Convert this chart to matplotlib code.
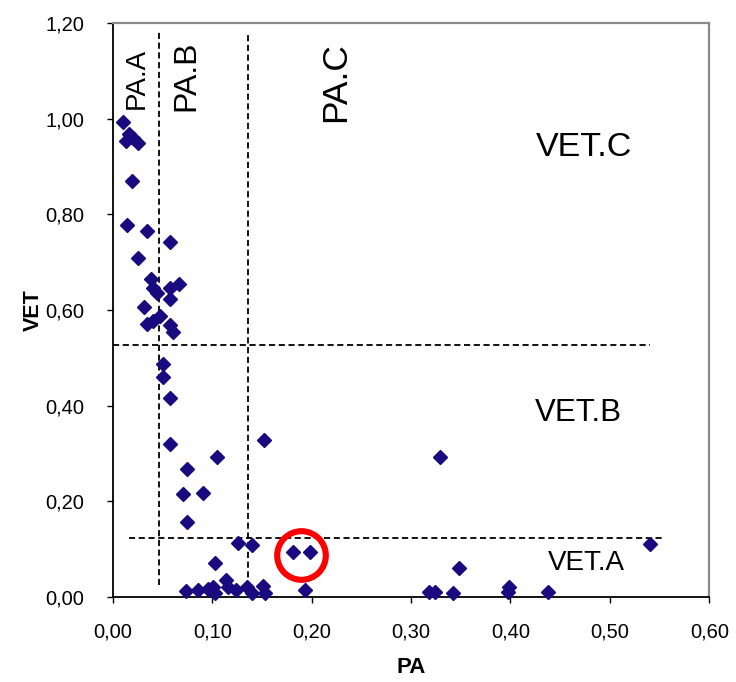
import matplotlib
matplotlib.use("Agg")
import matplotlib.pyplot as plt
from matplotlib.ticker import FuncFormatter

plt.rcParams['font.family'] = ['Liberation Sans', 'DejaVu Sans']

# ---- data ----
pa = [0.010, 0.0165, 0.013, 0.0205, 0.0256, 0.019, 0.0145, 0.034, 0.0574, 0.0256,
      0.038, 0.0407, 0.0447, 0.0574, 0.0668, 0.0574, 0.0313, 0.0474, 0.0407, 0.034,
      0.0574, 0.0601,
      0.0507, 0.0507, 0.0574, 0.0574, 0.152, 0.1044, 0.0742, 0.0708, 0.0903, 0.0748, 0.329,
      0.126, 0.1396, 0.1027, 0.181, 0.198, 0.540, 0.3485,
      0.0735, 0.086, 0.096, 0.1027, 0.101, 0.1138, 0.116, 0.124, 0.1346, 0.1396,
      0.1507, 0.153, 0.193, 0.318, 0.324, 0.3425, 0.399, 0.397, 0.438]
vet = [0.993, 0.969, 0.954, 0.960, 0.949, 0.871, 0.777, 0.765, 0.742, 0.708,
       0.664, 0.647, 0.636, 0.647, 0.655, 0.622, 0.606, 0.588, 0.577, 0.570,
       0.569, 0.553,
       0.487, 0.460, 0.416, 0.320, 0.328, 0.293, 0.268, 0.214, 0.218, 0.156, 0.292,
       0.113, 0.108, 0.070, 0.094, 0.094, 0.111, 0.059,
       0.012, 0.014, 0.017, 0.007, 0.021, 0.035, 0.021, 0.015, 0.021, 0.007,
       0.022, 0.007, 0.015, 0.010, 0.010, 0.007, 0.021, 0.010, 0.010]

# threshold lines: (position, start, end)
pa_thresholds = [(0.0464, 0.024, 1.182), (0.1356, 0.0, 1.182)]
vet_thresholds = [(0.527, 0.0, 0.540), (0.122, 0.0165, 0.555)]

# region labels
pa_labels = [("PA.A", 0.0235, 1.085, 20), ("PA.B", 0.0735, 1.09, 23), ("PA.C", 0.224, 1.078, 25.5)]
vet_labels = [("VET.C", 0.4257, 0.94, 24.5), ("VET.B", 0.4247, 0.385, 22.5), ("VET.A", 0.4377, 0.07, 20)]

highlight = [(0.189, 0.087)]

x_ticks = [0.0, 0.1, 0.2, 0.3, 0.4, 0.5, 0.6]
y_ticks = [0.0, 0.2, 0.4, 0.6, 0.8, 1.0, 1.2]

# ---- plot ----
fig = plt.figure(figsize=(7.36, 6.82), dpi=100)
ax = fig.add_axes([0.1534, 0.1251, 0.9637 - 0.1534, 0.9658 - 0.1251])

dash = dict(color='black', lw=1.3, linestyle=(0, (3.4, 2.0)))
for x, y0, y1 in pa_thresholds:
    ax.plot([x, x], [y0, y1], **dash, zorder=2)
for y, x0, x1 in vet_thresholds:
    ax.plot([x0, x1], [y, y], **dash, zorder=2)

ax.plot(pa, vet, linestyle='none', marker='D', markersize=7.0,
        color='#1a0a80', markeredgecolor='#1a0a80', zorder=3, clip_on=False)

for hx, hy in highlight:
    ax.plot([hx], [hy], linestyle='none', marker='o', markersize=35,
            markerfacecolor='none', markeredgecolor='#ff0000', markeredgewidth=4.4, zorder=4)

for txt, x, y, fs in pa_labels:
    ax.text(x, y, txt, rotation=90, fontsize=fs, ha='center', va='center', zorder=5)
for txt, x, y, fs in vet_labels:
    ax.text(x, y, txt, fontsize=fs, ha='left', va='center', zorder=5)

ax.set_xlim(0, 0.6)
ax.set_ylim(0, 1.2)
ax.set_xticks(x_ticks)
ax.set_yticks(y_ticks)
fmt = FuncFormatter(lambda v, p: f"{v:.2f}".replace('.', ','))
ax.xaxis.set_major_formatter(fmt)
ax.yaxis.set_major_formatter(fmt)
ax.tick_params(axis='both', direction='out', length=4.5, width=1.0, labelsize=14.5, colors='black')
ax.tick_params(axis='y', pad=16)
ax.tick_params(axis='x', pad=14)

for s in ['top', 'right']:
    ax.spines[s].set_color('#8a8a8a')
    ax.spines[s].set_linewidth(1.6)
for s in ['left', 'bottom']:
    ax.spines[s].set_color('black')
    ax.spines[s].set_linewidth(1.3)

ax.set_xlabel('PA', fontsize=16, fontweight='bold', labelpad=11)
ax.set_ylabel('VET', fontsize=15.5, fontweight='bold', labelpad=1)

fig.savefig('out.png', dpi=100)
